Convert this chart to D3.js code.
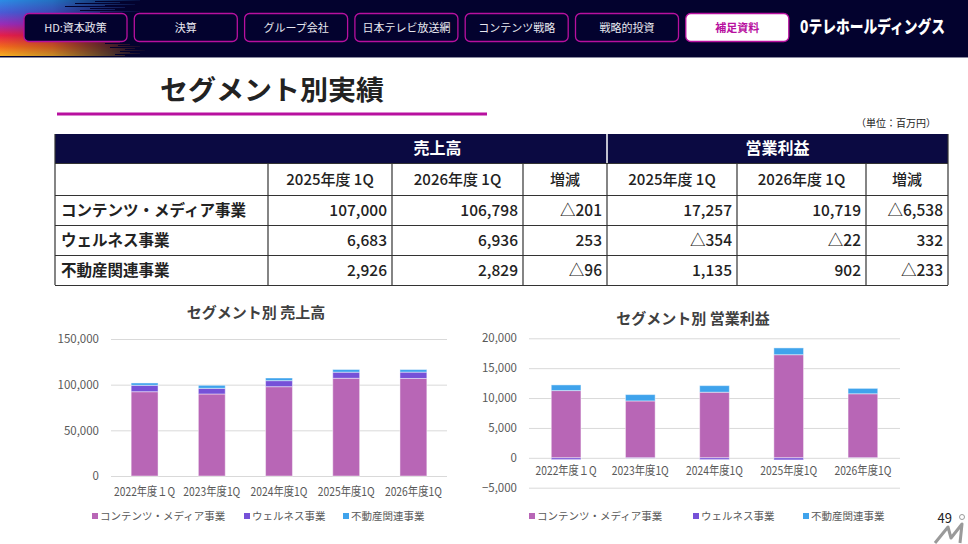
<!DOCTYPE html>
<html>
<head>
<meta charset="utf-8">
<script src="https://cdn.jsdelivr.net/npm/d3@7"></script>
<style>
  body { margin: 0; background: #fff; }
  svg { display: block; font-family: "Noto Sans CJK JP", "Noto Sans", sans-serif; }
</style>
</head>
<body>
<svg id="page" width="968" height="544"></svg>
<script>
// nav + table data
const navItems = ['HD:資本政策', '決算', 'グループ会社', '日本テレビ放送網', 'コンテンツ戦略', '戦略的投資', '補足資料'];
const segments = ['コンテンツ・メディア事業', 'ウェルネス事業', '不動産関連事業'];
const periodHeads = ['2025年度 1Q', '2026年度 1Q', '増減', '2025年度 1Q', '2026年度 1Q', '増減'];
const sales2025 = [107000, 6683, 2926];
const sales2026 = [106798, 6936, 2829];
const salesDiff = [-201, 253, -96];
const profit2025 = [17257, -354, 1135];
const profit2026 = [10719, -22, 902];
const profitDiff = [-6538, 332, -233];

// chart data
const years = ['2022年度１Q', '2023年度1Q', '2024年度1Q', '2025年度1Q', '2026年度1Q'];
const salesContent = [92300, 89800, 97800, 107000, 106798];
const salesWellness = [7000, 6200, 6600, 6683, 6936];
const salesRealEstate = [2550, 3300, 2900, 2926, 2829];
const profitContent = [11250, 9520, 10980, 17257, 10719];
const profitWellness = [-300, -60, -300, -354, -22];
const profitRealEstate = [950, 1060, 1100, 1135, 902];
const salesTicks = [0, 50000, 100000, 150000];
const profitTicks = [-5000, 0, 5000, 10000, 15000, 20000];

const colors = ['#b866b6', '#7651d8', '#3fa3ec'];
const navy = '#03022e';
const magenta = '#b8109f';

const svg = d3.select('#page');
const defs = svg.append('defs');

// ---- header ----
svg.append('rect').attr('width', 968).attr('height', 57).attr('fill', navy);
svg.append('line').attr('x1', 0).attr('x2', 968).attr('y1', 57.5).attr('y2', 57.5)
  .attr('stroke', '#8a8aa0').attr('stroke-width', 1);

const vg = defs.append('linearGradient').attr('id', 'rainbow')
  .attr('gradientUnits', 'userSpaceOnUse')
  .attr('x1', 0).attr('y1', 0).attr('x2', 0).attr('y2', 57);
[['0%', '#2b8de6'], ['22%', '#4b5bd6'], ['42%', '#9a2cb8'], ['62%', '#e61e4a'], ['82%', '#f26a1c'], ['100%', '#f8b824']]
  .forEach(s => vg.append('stop').attr('offset', s[0]).attr('stop-color', s[1]));
const hg = defs.append('linearGradient').attr('id', 'fade');
hg.append('stop').attr('offset', '0%').attr('stop-color', '#fff').attr('stop-opacity', 1);
hg.append('stop').attr('offset', '35%').attr('stop-color', '#fff').attr('stop-opacity', 0.8);
hg.append('stop').attr('offset', '100%').attr('stop-color', '#fff').attr('stop-opacity', 0);
const mask = defs.append('mask').attr('id', 'fadeMask');
mask.append('rect').attr('width', 150).attr('height', 57).attr('fill', 'url(#fade)');

// streaks in the corner
const streakLen = [140, 95, 120, 75, 135, 105, 65, 125, 90, 115, 80, 140, 100, 70, 120, 60, 95, 50, 70, 45,
  60, 40, 55, 45, 50, 40, 60, 48, 55, 42, 65, 50, 70, 55, 80, 60, 90, 70, 100, 85, 110, 95, 120, 105,
  130, 118, 140, 110, 135, 125, 145, 120, 130, 140, 115, 125];
svg.append('g').attr('mask', 'url(#fadeMask)')
  .selectAll('rect').data(streakLen).join('rect')
  .attr('x', 0).attr('y', (d, i) => i)
  .attr('width', d => d).attr('height', 1)
  .attr('fill', 'url(#rainbow)');

navItems.forEach((t, i) => {
  const x = 24 + i * 110.3;
  const active = i === navItems.length - 1;
  svg.append('rect').attr('x', x).attr('y', 13.5).attr('width', 103).attr('height', 28).attr('rx', 5)
    .attr('fill', active ? '#fff' : navy).attr('stroke', magenta).attr('stroke-width', 1.3);
  svg.append('text').attr('x', x + 51.5).attr('y', 31.5).attr('text-anchor', 'middle')
    .attr('font-size', 11).attr('font-weight', active ? 700 : 400)
    .attr('fill', active ? magenta : '#e8e8f0').text(t);
});
svg.append('text').attr('x', 800).attr('y', 0).attr('font-size', 14.5).attr('font-weight', 900)
  .attr('fill', '#fff').attr('textLength', 145).attr('lengthAdjust', 'spacingAndGlyphs')
  .attr('transform', 'translate(0,33) scale(1,1.2)')
  .text('0テレホールディングス');

// ---- title ----
svg.append('text').attr('x', 160).attr('y', 100).attr('font-size', 27).attr('font-weight', 700)
  .attr('fill', '#222').attr('textLength', 224).attr('lengthAdjust', 'spacingAndGlyphs').text('セグメント別実績');
svg.append('rect').attr('x', 57).attr('y', 112.5).attr('width', 430).attr('height', 3).attr('fill', magenta);
svg.append('text').attr('x', 936).attr('y', 127).attr('text-anchor', 'end')
  .attr('font-size', 10).attr('fill', '#222').text('（単位：百万円）');

// ---- table ----
const colX = [55, 268, 392, 523, 607, 737, 866, 948];
const rowY = [134, 163, 195, 225, 255, 285];
const fmt = d3.format(',');
const tri = v => v < 0 ? '△' + fmt(-v) : fmt(v);
const tbl = svg.append('g');
tbl.append('rect').attr('x', 55).attr('y', rowY[0]).attr('width', 893).attr('height', rowY[1] - rowY[0])
  .attr('fill', '#0b0a42');
tbl.append('line').attr('x1', 607).attr('x2', 607).attr('y1', rowY[0]).attr('y2', rowY[1])
  .attr('stroke', '#fff').attr('stroke-width', 1.5);
[['売上高', (268 + 607) / 2], ['営業利益', (607 + 948) / 2]].forEach(h => {
  tbl.append('text').attr('x', h[1]).attr('y', 154).attr('text-anchor', 'middle')
    .attr('font-size', 16).attr('font-weight', 700).attr('fill', '#fff').text(h[0]);
});
periodHeads.forEach((t, i) => {
  tbl.append('text').attr('x', (colX[i + 1] + colX[i + 2]) / 2).attr('y', 185).attr('text-anchor', 'middle')
    .attr('font-size', 15).attr('font-weight', 500).attr('fill', '#222').text(t);
});
const rows = segments.map((s, i) => [s, sales2025[i], sales2026[i], salesDiff[i], profit2025[i], profit2026[i], profitDiff[i]]);
rows.forEach((r, ri) => {
  const yb = rowY[ri + 2] + 21;
  tbl.append('text').attr('x', 61).attr('y', yb).attr('font-size', 15.5).attr('font-weight', 700)
    .attr('fill', '#222').text(r[0]);
  r.slice(1).forEach((v, ci) => {
    tbl.append('text').attr('x', colX[ci + 2] - 5).attr('y', yb).attr('text-anchor', 'end')
      .attr('font-size', 15.5).attr('font-weight', 500).attr('fill', '#222').text(tri(v));
  });
});
rowY.slice(1).forEach(y => {
  tbl.append('line').attr('x1', 55).attr('x2', 948).attr('y1', y + 0.5).attr('y2', y + 0.5)
    .attr('stroke', '#333').attr('stroke-width', 1.2);
});
colX.forEach((x, i) => {
  tbl.append('line').attr('x1', x).attr('x2', x).attr('y1', i === 0 || i === 7 ? rowY[0] : rowY[1]).attr('y2', rowY[5])
    .attr('stroke', '#333').attr('stroke-width', 1.2);
});

// ---- charts ----
function drawChart(opts) {
  const g = svg.append('g');
  const x = d3.scaleBand().domain(years).range([opts.x0, opts.x1]).paddingInner(0.6).paddingOuter(0.3);
  const y = d3.scaleLinear().domain(opts.domain).range([opts.yBottom, opts.yTop]);

  g.append('text').attr('x', opts.titleX).attr('y', opts.titleY).attr('text-anchor', 'middle')
    .attr('font-size', 15).attr('font-weight', 700).attr('fill', '#404040').text(opts.title);

  const yAxis = g.append('g').attr('transform', `translate(${opts.x0},0)`)
    .call(d3.axisLeft(y).tickValues(opts.ticks).tickFormat(fmt).tickSize(-(opts.x1 - opts.x0)).tickPadding(12));
  yAxis.select('.domain').remove();
  yAxis.selectAll('.tick line').attr('stroke', '#d9d9d9').attr('stroke-width', 1);
  yAxis.selectAll('.tick text').attr('fill', '#595959').attr('font-size', 11.5)
    .attr('font-family', '"Noto Sans CJK JP", sans-serif');

  const table = years.map((yr, i) => ({ year: yr, a: opts.series[0][i], b: opts.series[1][i], c: opts.series[2][i] }));
  const stacked = d3.stack().keys(['a', 'b', 'c']).offset(d3.stackOffsetDiverging)(table);
  g.selectAll('g.layer').data(stacked).join('g').attr('class', 'layer')
    .attr('fill', (d, i) => colors[i])
    .selectAll('rect').data(d => d).join('rect')
    .attr('x', d => x(d.data.year))
    .attr('width', x.bandwidth())
    .attr('y', d => y(Math.max(d[0], d[1])))
    .attr('height', d => Math.abs(y(d[0]) - y(d[1])))
    .attr('stroke', 'rgba(255,255,255,0.45)').attr('stroke-width', 1);

  const xAxis = g.append('g').attr('transform', `translate(0,${y(0)})`)
    .call(d3.axisBottom(x).tickSize(0).tickPadding(opts.labelPad));
  xAxis.select('.domain').remove();
  xAxis.selectAll('.tick text').attr('fill', '#595959').attr('font-size', 12)
    .attr('font-family', '"Noto Sans CJK JP", sans-serif')
    .attr('textLength', (d, i) => i === 0 ? 61 : 57).attr('lengthAdjust', 'spacingAndGlyphs');

  opts.legendX.forEach((lx, i) => {
    g.append('rect').attr('x', lx).attr('y', opts.legendY - 8).attr('width', 6).attr('height', 6).attr('fill', colors[i]);
    g.append('text').attr('x', lx + 8).attr('y', opts.legendY - 1).attr('font-size', 10.5).attr('fill', '#595959')
      .text(segments[i]);
  });
}

drawChart({
  title: 'セグメント別 売上高', titleX: 256, titleY: 318,
  x0: 111, x1: 447, yTop: 339, yBottom: 476, domain: [0, 150000], ticks: salesTicks,
  series: [salesContent, salesWellness, salesRealEstate], labelPad: 11,
  legendX: [92, 244, 343], legendY: 521
});
drawChart({
  title: 'セグメント別 営業利益', titleX: 693, titleY: 324,
  x0: 529, x1: 900, yTop: 338.3, yBottom: 487.7, domain: [-5000, 20000], ticks: profitTicks,
  series: [profitContent, profitWellness, profitRealEstate], labelPad: 9,
  legendX: [529, 693, 803], legendY: 521
});

// page number + corner mark
svg.append('text').attr('x', 952).attr('y', 523).attr('text-anchor', 'end').attr('font-size', 13)
  .attr('fill', '#222').text('49');
svg.append('path').attr('d', 'M935,543 L948,527 L951,538 L962,524 L960,543')
  .attr('fill', 'none').attr('stroke', '#9a9a9a').attr('stroke-width', 3).attr('stroke-linejoin', 'round');
svg.append('circle').attr('cx', 962).attr('cy', 517).attr('r', 2.5).attr('fill', 'none').attr('stroke', '#9a9a9a');
</script>
</body>
</html>
